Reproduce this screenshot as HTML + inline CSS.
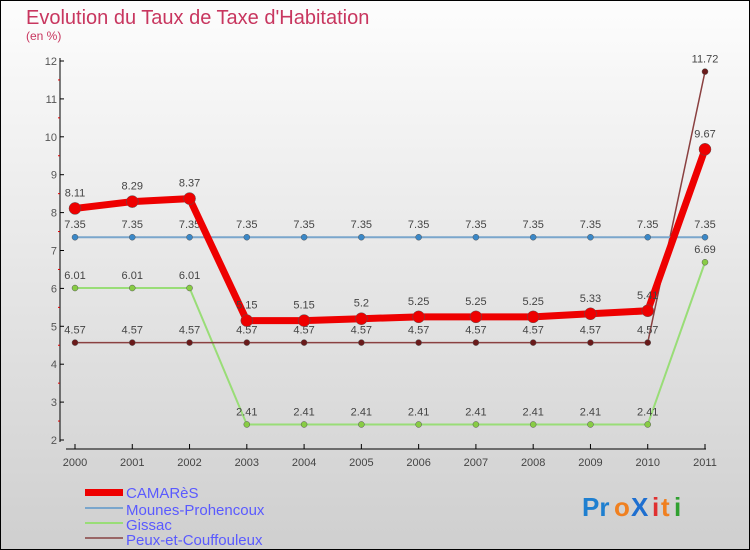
<!DOCTYPE html>
<html><head><meta charset="utf-8">
<style>
body{margin:0;}
#wrap{width:750px;height:550px;position:relative;overflow:hidden;font-family:"Liberation Sans",sans-serif;}
svg text{font-family:"Liberation Sans",sans-serif;}
</style></head>
<body>
<div id="wrap">
<svg id="chart" width="750" height="550">
<defs><linearGradient id="bg" x1="0" y1="0" x2="0" y2="1"><stop offset="0" stop-color="#fdfdfd"/><stop offset="1" stop-color="#cfcfcf"/></linearGradient></defs>
<rect x="0.5" y="0.5" width="749" height="549" fill="url(#bg)" stroke="#000"/>
<text x="26" y="24" font-size="20" fill="#c8365f">Evolution du Taux de Taxe d'Habitation</text>
<text x="26" y="40" font-size="12" fill="#c8365f">(en %)</text>
<g id="axes"></g>
<g id="series"></g>
<g>
<rect x="85" y="489" width="38" height="7" fill="#e00"/>
<text x="126" y="498" font-size="15" fill="#5a5aff">CAMARèS</text>
<line x1="85" y1="508" x2="123" y2="508" stroke="#7aa6cc" stroke-width="2"/>
<text x="126" y="515" font-size="15" fill="#5a5aff">Mounes-Prohencoux</text>
<line x1="85" y1="523" x2="123" y2="523" stroke="#99dd77" stroke-width="2"/>
<text x="126" y="530" font-size="15" fill="#5a5aff">Gissac</text>
<line x1="85" y1="538" x2="123" y2="538" stroke="#996666" stroke-width="2"/>
<text x="126" y="545" font-size="15" fill="#5a5aff">Peux-et-Couffouleux</text>
</g>
<g font-size="26" font-weight="bold">
<text x="582" y="516" fill="#1e7fd0">Pr</text><text x="614" y="516" fill="#f08020">o</text><text x="631" y="516" fill="#1e6fd0">X</text><text x="652" y="516" fill="#e03030">i</text><text x="661" y="516" fill="#f08020">t</text><text x="674" y="516" fill="#30a030">i</text>
</g>
</svg>
</div>
<script>
const years=[2000,2001,2002,2003,2004,2005,2006,2007,2008,2009,2010,2011];
const camares=[8.11,8.29,8.37,5.15,5.15,5.2,5.25,5.25,5.25,5.33,5.41,9.67];
const mounes=[7.35,7.35,7.35,7.35,7.35,7.35,7.35,7.35,7.35,7.35,7.35,7.35];
const gissac=[6.01,6.01,6.01,2.41,2.41,2.41,2.41,2.41,2.41,2.41,2.41,6.69];
const peux=[4.57,4.57,4.57,4.57,4.57,4.57,4.57,4.57,4.57,4.57,4.57,11.72];
const yTicks=[2,3,4,5,6,7,8,9,10,11,12];
const NS="http://www.w3.org/2000/svg";
const X=i=>75+i*(630/11);
const Y=v=>440-(v-2)*37.9;
function mk(tag,attrs,parent){const e=document.createElementNS(NS,tag);for(const k in attrs)e.setAttribute(k,attrs[k]);parent.appendChild(e);return e;}
const ax=document.getElementById('axes');
let l=mk('line',{x1:60,y1:58,x2:60,y2:442,stroke:'#000'},ax);


l=mk('line',{x1:66,y1:449,x2:706,y2:449,stroke:'#000'},ax);


yTicks.forEach((v,i)=>{
 const y=Y(v);
 mk('line',{x1:60,y1:y,x2:64,y2:y,stroke:'#000'},ax);
 if(i<yTicks.length-1) mk('line',{x1:58,y1:Y(v+0.5),x2:60,y2:Y(v+0.5),stroke:'#d00'},ax);
 const t=mk('text',{x:57,y:y+4,'font-size':11,fill:'#555','text-anchor':'end'},ax);
 t.textContent=v;
 
 
});
years.forEach((yr,i)=>{
 const x=X(i);
 mk('line',{x1:x,y1:444,x2:x,y2:449,stroke:'#000'},ax);
 const t=mk('text',{x:x,y:466,'font-size':11,fill:'#444','text-anchor':'middle'},ax);
 t.textContent=yr;
 
 
});
const sg=document.getElementById('series');
function draw(vals,color,w,r,fill,name,labelShow){
 const g=mk('g',{},sg);
 
 
 const p=mk('polyline',{points:vals.map((v,i)=>X(i)+','+Y(v)).join(' '),fill:'none',stroke:color,'stroke-width':w,'stroke-linejoin':'round'},g);
 
 
 vals.forEach((v,i)=>{
  const c=mk('circle',{cx:X(i),cy:Y(v),r:r,fill:fill,stroke:'#555','stroke-width':0.5},g);
  
  
  if(labelShow){
   const t=mk('text',{x:X(i),y:Y(v)-(r+6),'font-size':11,fill:'#444','text-anchor':'middle'},g);
   t.textContent=v;
   
   
  }
 });
}
draw(gissac,'#99dd77',2,3,'#88cc44','gissac',true);
draw(peux,'#8a4040',1.5,3,'#6a1a1a','peux',true);
draw(mounes,'#7aa6cc',2,3,'#3a88c8','mounes',true);
draw(camares,'#ee0000',7,6,'#ee0000','camares',true);
</script>
</body></html>
